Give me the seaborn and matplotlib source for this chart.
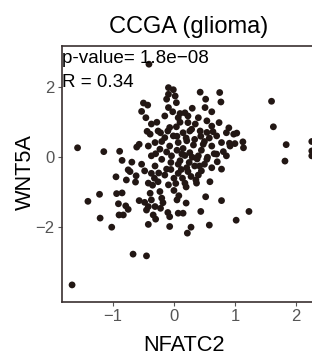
import matplotlib
matplotlib.use("Agg")
import matplotlib.pyplot as plt
import seaborn as sns
import pandas as pd

title = "CCGA (glioma)"
x_label = "NFATC2"
y_label = "WNT5A"
stat_lines = ["p-value= 1.8e\u221208", "R = 0.34"]
x_ticks = [-1, 0, 1, 2]
y_ticks = [-2, 0, 2]

nfatc2 = [-0.41, -1.58, -1.15, -0.89, -0.53, -0.50, -0.43, -0.37, -0.57, -0.61,
          -0.44, -0.85, -0.69, -0.75, -0.95, -0.78, -0.62, -0.63, -1.41, -1.22,
          -0.94, -0.85, -1.21, -0.91, -0.79, -0.90, -0.83, -0.57, -0.48, -0.31,
          -0.34, -0.30, -0.42, -1.02, -0.07, -0.07, 0.07, 0.15, 0.05, -0.22,
          0.28, 0.44, 0.52, 0.58, 0.78, 1.02, 1.23, 0.59, 0.71, 0.81,
          0.90, 0.98, 1.03, 0.91, 1.00, 1.13, 1.14, 0.92, 0.75, 0.77,
          0.74, 0.54, 0.64, 1.60, 1.63, 1.84, 1.82, 2.26, 2.26, 2.26,
          -1.67, -0.67, -0.45, -0.09, -0.01, 0.43, -0.09, -0.12, 0.02, 0.04,
          0.52, 0.51, 0.18, 0.23, -0.09, -0.15, 0.07, -0.39, -0.26, -0.07,
          0.04, 0.23, 0.40, 0.54, 0.62, 0.86, 0.70, 0.43, 0.29, 0.15,
          -0.01, -0.15, -0.31, -0.42, -0.23, -0.07, 0.07, 0.21, 0.34, 0.48,
          0.62, 0.78, -0.37, -0.20, -0.04, 0.13, 0.26, 0.40, 0.54, 0.70,
          0.86, -0.31, -0.12, 0.07, 0.21, 0.34, 0.45, 0.62, 0.78, -0.37,
          -0.15, 0.07, 0.23, 0.40, -0.42, -0.26, -0.09, 0.18, 0.37, -0.39,
          -0.23, -0.37, -0.20, -0.42, -0.10, 0.20, 0.22, -0.72, -0.75, -0.45,
          -0.53, -0.46, -0.48,
          0.15, 0.30, 0.45, 0.10, 0.25, 0.38, 0.20, 0.05, -0.05, 0.32,
          0.50, 0.12, 0.28, 0.00, -0.20, -0.30, -0.10, 0.58, 0.66, 0.35,
          -0.25, -0.35, -0.28, 0.10, -0.02, 0.30, 0.62, -0.18, 0.00, 0.08,
          0.18, 0.42, 0.05, -0.12, 0.26, 0.50, 0.36, -0.05, 0.14, 0.55,
          -0.22, 0.10, 0.44, -0.32, 0.20, 0.03]

wnt5a = [2.66, 0.27, 0.16, 0.17, 1.31, 1.55, 1.49, 0.95, 0.37, 0.29,
         0.74, -0.09, -0.14, -0.36, -0.56, -0.65, -0.53, -0.71, -1.26, -1.06,
         -1.04, -1.02, -1.74, -1.33, -1.39, -1.65, -1.65, -1.24, -1.29, -1.41,
         -1.65, -1.77, -1.92, -2.00, -1.98, -1.70, -1.60, -1.60, -1.22, -1.46,
         -2.00, -1.55, -1.13, -1.94, -1.24, -1.80, -1.55, -0.70, -0.13, 0.16,
         0.84, 0.66, 0.69, 0.40, 0.39, 0.44, 0.27, 0.32, 1.85, 1.58,
         0.99, 0.71, 0.73, 1.60, 0.87, 0.36, -0.11, 0.45, 0.18, 0.04,
         -3.65, -2.77, -2.82, 1.99, 1.93, 1.86, 1.80, 1.66, 1.75, 1.56,
         1.66, 1.42, 1.27, 1.18, 1.42, 1.18, 1.13, 0.66, 0.75, 0.85,
         0.87, 0.99, 1.13, 1.04, 0.89, 0.70, 0.61, 0.75, 0.80, 0.70,
         0.61, 0.56, 0.42, 0.32, 0.23, 0.32, 0.42, 0.47, 0.51, 0.37,
         0.32, 0.42, 0.04, -0.06, 0.04, 0.09, 0.13, 0.04, -0.06, 0.09,
         0.04, -0.25, -0.34, -0.20, -0.30, -0.25, -0.39, -0.30, -0.34, -0.46,
         -0.51, -0.46, -0.41, -0.51, -0.74, -0.70, -0.79, -0.74, -0.74, -1.03,
         -0.98, -1.22, -1.17, -1.41, -1.58, -1.31, -2.17, -0.41, -1.49, -1.51,
         -0.20, 1.13, -0.39,
         0.25, 0.00, 0.20, -0.10, -0.15, -0.05, 0.55, 0.20, -0.15, 0.35,
         -0.20, -0.35, -0.55, -0.60, 0.45, 0.10, 0.75, 0.55, 0.10, 0.95,
         -0.45, -0.80, 1.00, 1.00, 1.30, 1.40, 1.30, -1.30, -0.95, -1.10,
         0.05, -0.25, 0.60, 0.15, 0.75, 0.45, -0.65, -0.35, -0.60, 0.00,
         0.70, 1.25, 0.60, -0.60, -0.85, -0.75]

df = pd.DataFrame({"NFATC2": nfatc2, "WNT5A": wnt5a})

sns.set_style("white")
plt.rcParams["font.family"] = ["Liberation Sans", "DejaVu Sans"]

fig = plt.figure(figsize=(3.12, 3.6), dpi=100)
ax = fig.add_axes([61.7 / 312, 1 - 301.7 / 360, 268.3 / 312, (301.7 - 46) / 360])

sns.scatterplot(data=df, x="NFATC2", y="WNT5A", ax=ax, color="#221714",
                s=24, edgecolor="none", linewidth=0, clip_on=True)

ax.set_xlim(-1.84, -1.84 + 268.3 / 61)
ax.set_ylim(-4.13, 3.18)
ax.set_xticks(x_ticks)
ax.set_yticks(y_ticks)
ax.set_xticklabels(["\u22121", "0", "1", "2"])
ax.set_yticklabels(["\u22122", "0", "2"])
ax.tick_params(axis="both", which="both", direction="out", length=3, width=0.8,
               color="#555555", labelcolor="#555555", labelsize=12, pad=2,
               bottom=True, left=True)
ax.set_xlabel("")
ax.set_ylabel("")

for side in ["left", "bottom", "top"]:
    ax.spines[side].set_visible(True)
    ax.spines[side].set_color("#3a3030")
    ax.spines[side].set_linewidth(1.2)
ax.spines["right"].set_visible(False)

fig.text(62 / 312, 1 - 63 / 360, stat_lines[0], ha="left", va="baseline",
         fontsize=13.6, color="black")
fig.text(62 / 312, 1 - 87 / 360, stat_lines[1], ha="left", va="baseline",
         fontsize=13.6, color="black")

fig.text(189 / 312, 1 - 33.3 / 360, title, ha="center", va="baseline",
         fontsize=17, color="black")
fig.text(184 / 312, 1 - 351 / 360, x_label, ha="center", va="baseline",
         fontsize=15.7, color="black")
fig.text(25 / 312, 1 - 172 / 360, y_label, ha="center", va="center",
         rotation=90, fontsize=15.7, color="black")

fig.savefig("out.png", dpi=100)
